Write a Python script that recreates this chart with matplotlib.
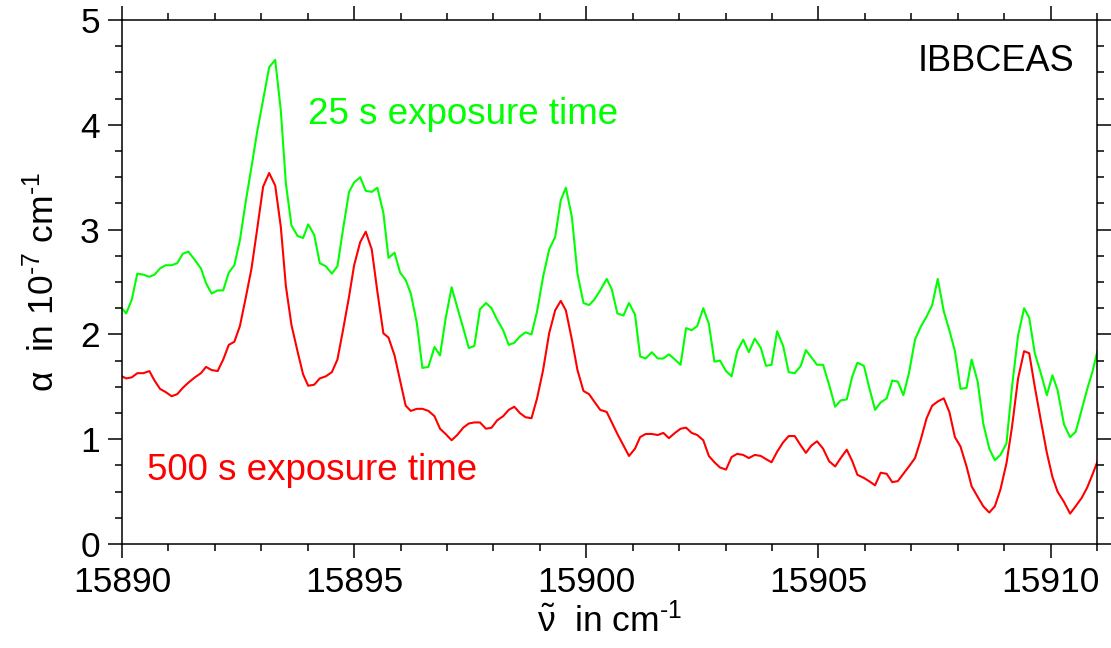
"""IBBCEAS spectrum: absorption coefficient for two exposure times."""
import matplotlib
matplotlib.use("Agg")
import matplotlib.pyplot as plt
from matplotlib.ticker import MultipleLocator

plt.rcParams.update({
    "font.family": ["Liberation Sans", "DejaVu Sans"],
    "mathtext.fontset": "custom",
    "mathtext.rm": "Liberation Sans",
    "mathtext.it": "Liberation Sans",
    "mathtext.bf": "Liberation Sans:bold",
    "axes.linewidth": 1.1,
})

# wavenumber grid (cm^-1), shared by both spectra
wavenumber = [
    15890.00, 15890.09, 15890.21, 15890.33, 15890.46, 15890.59, 15890.70, 15890.82, 15890.94,
    15891.07, 15891.19, 15891.31, 15891.43, 15891.57, 15891.70, 15891.81, 15891.93,
    15892.06, 15892.18, 15892.30, 15892.42, 15892.54, 15892.67, 15892.79, 15892.91,
    15893.04, 15893.17, 15893.30, 15893.42, 15893.53, 15893.65, 15893.78, 15893.90,
    15894.01, 15894.14, 15894.26, 15894.39, 15894.52, 15894.64, 15894.76, 15894.89,
    15895.00, 15895.13, 15895.25, 15895.38, 15895.50, 15895.63, 15895.74, 15895.87, 15895.99,
    15896.11, 15896.22, 15896.35, 15896.47, 15896.60, 15896.73, 15896.85, 15896.97,
    15897.10, 15897.22, 15897.35, 15897.47, 15897.59, 15897.71, 15897.84, 15897.96,
    15898.08, 15898.21, 15898.33, 15898.45, 15898.57, 15898.69, 15898.82, 15898.94,
    15899.07, 15899.20, 15899.33, 15899.45, 15899.56, 15899.69, 15899.81, 15899.94,
    15900.06, 15900.17, 15900.30, 15900.44, 15900.55, 15900.67, 15900.80, 15900.92,
    15901.05, 15901.16, 15901.28, 15901.41, 15901.54, 15901.66, 15901.78, 15901.91,
    15902.03, 15902.15, 15902.27, 15902.39, 15902.52, 15902.64, 15902.76, 15902.88,
    15903.01, 15903.13, 15903.25, 15903.38, 15903.50, 15903.63, 15903.76, 15903.87, 15903.99,
    15904.11, 15904.24, 15904.36, 15904.49, 15904.62, 15904.73, 15904.85, 15904.97,
    15905.10, 15905.23, 15905.36, 15905.48, 15905.61, 15905.73, 15905.84, 15905.98,
    15906.09, 15906.22, 15906.34, 15906.47, 15906.59, 15906.71, 15906.83, 15906.95,
    15907.08, 15907.20, 15907.33, 15907.45, 15907.57, 15907.70, 15907.82, 15907.94,
    15908.06, 15908.19, 15908.30, 15908.43, 15908.55, 15908.68, 15908.80, 15908.92,
    15909.05, 15909.17, 15909.30, 15909.43, 15909.54, 15909.66, 15909.79, 15909.92,
    15910.04, 15910.15, 15910.29, 15910.42, 15910.54, 15910.67, 15910.79, 15910.90, 15911.03,
]

# alpha in 1e-7 cm^-1, 25 s exposure
alpha_25s = [
    2.25, 2.20, 2.33, 2.58, 2.57, 2.55, 2.57, 2.63, 2.66,
    2.66, 2.68, 2.77, 2.79, 2.71, 2.63, 2.49, 2.39,
    2.42, 2.42, 2.59, 2.66, 2.90, 3.28, 3.60, 3.93,
    4.24, 4.55, 4.62, 4.14, 3.44, 3.04, 2.94, 2.92,
    3.05, 2.95, 2.68, 2.65, 2.58, 2.65, 3.00, 3.36,
    3.45, 3.50, 3.37, 3.36, 3.40, 3.16, 2.73, 2.78, 2.59,
    2.52, 2.39, 2.11, 1.68, 1.69, 1.88, 1.80, 2.15,
    2.45, 2.26, 2.06, 1.87, 1.89, 2.24, 2.30, 2.25,
    2.14, 2.04, 1.90, 1.92, 1.98, 2.02, 2.00, 2.22,
    2.55, 2.81, 2.93, 3.28, 3.40, 3.12, 2.58, 2.30,
    2.28, 2.33, 2.42, 2.53, 2.43, 2.20, 2.18, 2.30,
    2.19, 1.79, 1.77, 1.83, 1.77, 1.77, 1.81, 1.76,
    1.71, 2.06, 2.04, 2.08, 2.25, 2.10, 1.74, 1.75,
    1.65, 1.60, 1.84, 1.95, 1.83, 1.96, 1.87, 1.70, 1.71,
    2.03, 1.89, 1.64, 1.63, 1.70, 1.85, 1.78, 1.71,
    1.71, 1.52, 1.31, 1.37, 1.38, 1.60, 1.73, 1.70,
    1.50, 1.28, 1.35, 1.39, 1.56, 1.55, 1.42, 1.63,
    1.95, 2.07, 2.17, 2.28, 2.53, 2.22, 2.04, 1.84,
    1.48, 1.49, 1.76, 1.55, 1.15, 0.91, 0.80, 0.85,
    0.96, 1.50, 1.99, 2.25, 2.16, 1.82, 1.63, 1.42,
    1.61, 1.47, 1.14, 1.02, 1.07, 1.28, 1.48, 1.64, 1.88,
]

# alpha in 1e-7 cm^-1, 500 s exposure
alpha_500s = [
    1.60, 1.58, 1.59, 1.63, 1.63, 1.65, 1.56, 1.48, 1.45,
    1.41, 1.43, 1.49, 1.54, 1.59, 1.63, 1.69, 1.66,
    1.65, 1.76, 1.90, 1.93, 2.08, 2.36, 2.63, 3.00,
    3.41, 3.54, 3.42, 3.03, 2.46, 2.09, 1.84, 1.62,
    1.51, 1.52, 1.58, 1.60, 1.64, 1.76, 2.04, 2.36,
    2.66, 2.88, 2.98, 2.81, 2.41, 2.01, 1.97, 1.80, 1.56,
    1.32, 1.27, 1.29, 1.29, 1.27, 1.22, 1.10, 1.05,
    0.99, 1.04, 1.11, 1.15, 1.16, 1.16, 1.10, 1.11,
    1.18, 1.22, 1.28, 1.31, 1.25, 1.21, 1.20, 1.39,
    1.66, 2.01, 2.23, 2.32, 2.23, 1.95, 1.66, 1.46,
    1.43, 1.36, 1.28, 1.26, 1.16, 1.05, 0.94, 0.84,
    0.91, 1.02, 1.05, 1.05, 1.04, 1.06, 1.01, 1.06,
    1.10, 1.11, 1.06, 1.04, 0.99, 0.84, 0.78, 0.73,
    0.71, 0.83, 0.86, 0.85, 0.82, 0.85, 0.84, 0.81, 0.78,
    0.88, 0.97, 1.03, 1.03, 0.94, 0.87, 0.94, 0.98,
    0.91, 0.79, 0.74, 0.82, 0.90, 0.79, 0.66, 0.63,
    0.60, 0.56, 0.68, 0.67, 0.59, 0.60, 0.67, 0.74,
    0.82, 0.99, 1.20, 1.32, 1.36, 1.39, 1.26, 1.02,
    0.93, 0.74, 0.55, 0.45, 0.36, 0.30, 0.36, 0.52,
    0.77, 1.12, 1.58, 1.84, 1.82, 1.50, 1.18, 0.87,
    0.64, 0.50, 0.40, 0.29, 0.36, 0.44, 0.54, 0.66, 0.81,
]

GREEN = "#00ff00"
RED = "#ff0000"

fig = plt.figure(figsize=(11.11, 6.48), dpi=100)
ax = fig.add_axes([0.1098, 0.1605, 0.8776, 0.8086])

ax.plot(wavenumber, alpha_25s, color=GREEN, lw=1.5)
ax.plot(wavenumber, alpha_500s, color=RED, lw=1.5)

ax.set_xlim(15890, 15911)
ax.set_ylim(0, 5)
ax.xaxis.set_major_locator(MultipleLocator(5))
ax.xaxis.set_minor_locator(MultipleLocator(1))
ax.yaxis.set_major_locator(MultipleLocator(1))
ax.yaxis.set_minor_locator(MultipleLocator(0.25))
ax.ticklabel_format(axis="x", useOffset=False)
ax.tick_params(which="both", direction="out", top=True, right=True,
               width=1.1, labelsize=25.5, pad=6)
ax.tick_params(which="major", length=10)
ax.tick_params(which="minor", length=5)

ax.set_xlabel(r"$\tilde{\nu}$  in cm$^{\text{-1}}$", fontsize=25.5, labelpad=2)
ax.set_ylabel(r"$\alpha$  in 10$^{\text{-7}}$ cm$^{\text{-1}}$", fontsize=25.5,
              labelpad=14)

ax.text(0.977, 0.92, "IBBCEAS", transform=ax.transAxes, ha="right",
        va="center", fontsize=26)
ax.text(0.191, 0.819, "25 s exposure time", transform=ax.transAxes,
        ha="left", va="center", fontsize=26.5, color=GREEN)
ax.text(0.026, 0.141, "500 s exposure time", transform=ax.transAxes,
        ha="left", va="center", fontsize=26.5, color=RED)

fig.savefig("out.png", dpi=100)
